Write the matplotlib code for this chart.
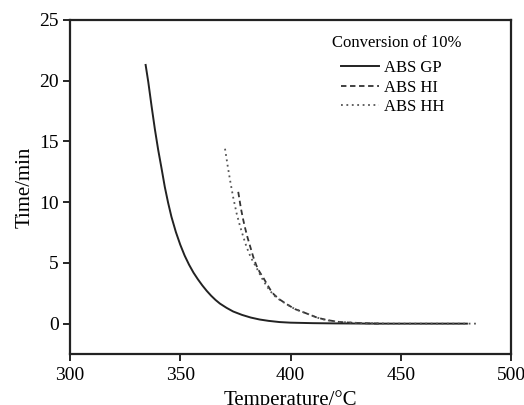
import matplotlib.pyplot as plt

plt.rcParams['font.family'] = ['Liberation Serif', 'DejaVu Serif']

# values
gp_temp = [334.3, 335.5, 337.0, 338.5, 340.0, 341.5, 343.0, 344.5, 346.0, 348.0,
           350.0, 352.0, 354.0, 356.0, 358.0, 360.0, 362.0, 364.0, 366.0, 368.0,
           371.0, 374.0, 378.0, 382.0, 386.0, 390.0, 395.0, 400.0, 410.0, 420.0,
           440.0, 480.0]
gp_time = [21.3, 19.9, 17.9, 16.0, 14.3, 12.8, 11.25, 9.95, 8.8, 7.55,
           6.5, 5.6, 4.85, 4.2, 3.65, 3.15, 2.7, 2.3, 1.95, 1.65,
           1.3, 1.0, 0.72, 0.5, 0.34, 0.23, 0.13, 0.08, 0.04, 0.02,
           0.0, 0.0]

hi_temp = [376.3, 377.5, 378.5, 379.3, 380.5, 381.8, 383.1, 384.5, 386.0, 387.6,
           389.5, 391.0, 392.5, 395.0, 398.3, 402.0, 407.4, 412.0, 416.4, 422.0,
           430.0, 440.0]
hi_time = [10.85, 9.5, 8.6, 7.95, 7.1, 6.3, 5.5, 4.8, 4.25, 3.8,
           3.2, 2.75, 2.4, 2.0, 1.6, 1.2, 0.83, 0.5, 0.3, 0.14,
           0.05, 0.0]

hh_temp = [370.3, 371.5, 372.6, 374.0, 375.6, 377.0, 378.5, 380.1, 382.0, 384.6,
           387.0, 389.0, 390.7, 393.0, 395.5, 398.3, 402.0, 407.4, 412.0, 416.4,
           422.0, 431.5, 445.0, 485.0]
hh_time = [14.4, 13.0, 11.8, 10.4, 9.05, 8.1, 7.2, 6.3, 5.45, 4.6,
           3.75, 3.15, 2.7, 2.25, 1.9, 1.6, 1.2, 0.83, 0.5, 0.28,
           0.14, 0.05, 0.0, 0.0]

W, H = 524, 405
fig, ax = plt.subplots(figsize=(W / 100, H / 100), dpi=100)
fig.subplots_adjust(left=70 / W, right=511 / W, top=1 - 20 / H, bottom=1 - 354 / H)

ax.plot(gp_temp, gp_time, color='#222222', lw=1.4, label='ABS GP')
ax.plot(hi_temp, hi_time, color='#333333', lw=1.3, ls=(0, (3, 2)), label='ABS HI')
ax.plot(hh_temp, hh_time, color='#555555', lw=1.3, ls=(0, (1, 2)), label='ABS HH')

ax.set_xlim(300, 500)
ax.set_ylim(-2.5, 25)
ax.set_xticks([300, 350, 400, 450, 500])
ax.set_yticks([0, 5, 10, 15, 20, 25])
ax.tick_params(direction='out', length=5, width=1.2, labelsize=14, pad=3)
ax.tick_params(axis='x', pad=4)
for s in ax.spines.values():
    s.set_linewidth(1.6)
    s.set_color('#222222')

ax.set_xlabel('Temperature/°C', fontsize=15, labelpad=5)
ax.set_ylabel('Time/min', fontsize=15, labelpad=3)

fig.text(397 / W, 1 - 43 / H, 'Conversion of 10%', fontsize=12,
         ha='center', va='center')
ax.legend(loc='upper left', bbox_to_anchor=(341 / W, 1 - 60 / H),
          bbox_transform=fig.transFigure, frameon=False, fontsize=12,
          handlelength=2.3, handletextpad=0.3, labelspacing=0.22,
          borderpad=0, borderaxespad=0)

plt.savefig('out.png', dpi=100)
